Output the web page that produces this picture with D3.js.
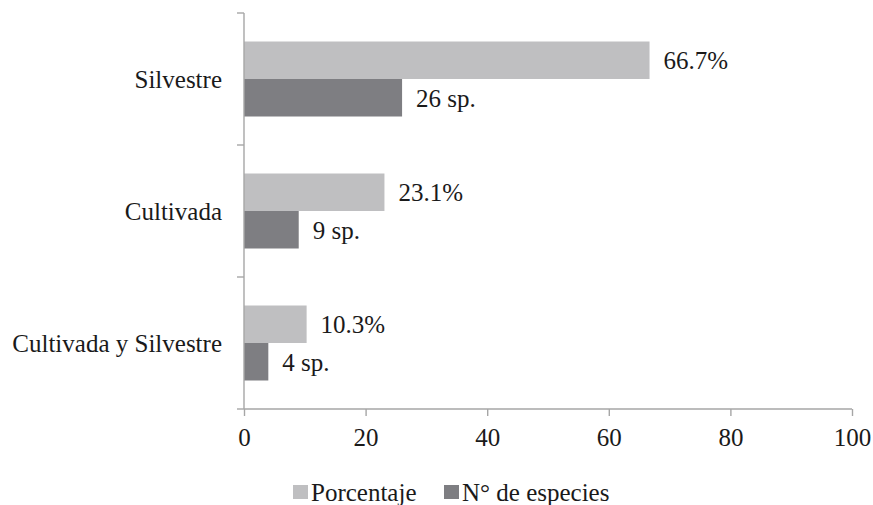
<!DOCTYPE html>
<html>
<head>
<meta charset="utf-8">
<script src="https://cdn.jsdelivr.net/npm/d3@7"></script>
<style>
  body { margin: 0; background: #fff; }
</style>
</head>
<body>
<svg id="chart" width="873" height="505"></svg>
<script>
// Origen de las especies: porcentaje y número de especies
const categories = ["Silvestre", "Cultivada", "Cultivada y Silvestre"];
const porcentaje = [66.7, 23.1, 10.3];
const especies = [26, 9, 4];
const xTicks = [0, 20, 40, 60, 80, 100];
const seriesNames = ["Porcentaje", "N° de especies"];

const colors = ["#bfbfc1", "#7e7e82"];
const axisColor = "#a6a6a6";
const FONT = "'Liberation Serif', 'Times New Roman', Times, serif";
const FS = 25;
const textColor = "#1a1a1a";

const svg = d3.select("#chart");
const plot = { left: 244, right: 852, top: 13, bottom: 409 };

const x = d3.scaleLinear().domain([0, 100]).range([plot.left, plot.right]);
const y = d3.scaleBand().domain(categories).range([plot.top, plot.bottom]).paddingInner(0).paddingOuter(0);
const inner = d3.scaleBand().domain([0, 1]).range([0, y.bandwidth()]).paddingOuter(0.76).paddingInner(0);

const rows = categories.map((c, i) => ({
  c,
  vals: [porcentaje[i], especies[i]],
  labels: [porcentaje[i].toFixed(1) + "%", especies[i] + " sp."]
}));

const styleText = sel => sel.style("font-family", FONT).style("font-size", FS + "px").attr("fill", textColor);

// Barras y etiquetas de valor
const g = svg.append("g");
rows.forEach(r => {
  r.vals.forEach((v, k) => {
    g.append("rect")
      .attr("x", x(0))
      .attr("y", y(r.c) + inner(k))
      .attr("width", x(v) - x(0))
      .attr("height", inner.bandwidth())
      .attr("fill", colors[k]);
    g.append("text")
      .attr("x", x(v) + 14)
      .attr("y", y(r.c) + inner(k) + inner.bandwidth() / 2)
      .attr("dy", "0.36em")
      .call(styleText)
      .text(r.labels[k]);
  });
});

// Eje X
const xAxis = svg.append("g")
  .attr("transform", `translate(0,${plot.bottom})`)
  .call(d3.axisBottom(x).tickValues(xTicks).tickSize(7).tickPadding(12).tickFormat(d3.format("d")));
xAxis.select(".domain").attr("stroke", axisColor).attr("stroke-width", 1.4).attr("d", `M${x(0)},0H${x(100)}`);
xAxis.selectAll(".tick line").attr("stroke", axisColor).attr("stroke-width", 1.4);
xAxis.selectAll(".tick text").call(styleText);

// Eje Y (marcas entre categorías)
const yAxis = svg.append("g").attr("transform", `translate(${x(0)},0)`);
yAxis.append("line")
  .attr("x1", 0).attr("x2", 0)
  .attr("y1", y.range()[0]).attr("y2", y.range()[1])
  .attr("stroke", axisColor).attr("stroke-width", 1.4);
const bounds = categories.map(c => y(c)).concat([y.range()[1]]);
yAxis.selectAll(".ytick").data(bounds).join("line")
  .attr("x1", -7).attr("x2", 0)
  .attr("y1", d => d).attr("y2", d => d)
  .attr("stroke", axisColor).attr("stroke-width", 1.4);
yAxis.selectAll(".ylab").data(categories).join("text")
  .attr("x", -22)
  .attr("y", d => y(d) + y.bandwidth() / 2)
  .attr("dy", "0.36em")
  .attr("text-anchor", "end")
  .call(styleText)
  .text(d => d);

// Leyenda
const legendX = [293, 444];
const legend = svg.append("g");
seriesNames.forEach((n, k) => {
  legend.append("rect")
    .attr("x", legendX[k]).attr("y", 485)
    .attr("width", 15).attr("height", 14)
    .attr("fill", colors[k]);
  legend.append("text")
    .attr("x", legendX[k] + 18).attr("y", 501)
    .call(styleText)
    .text(n);
});
</script>
</body>
</html>
